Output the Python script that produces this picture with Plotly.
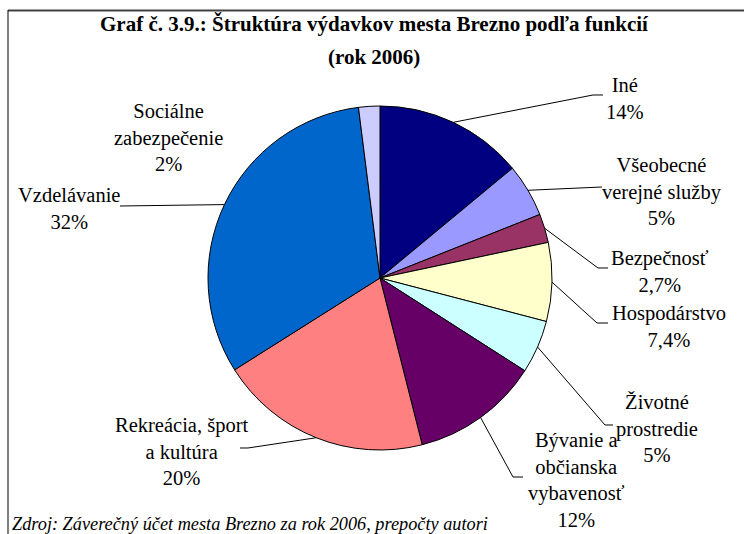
import math
import plotly.graph_objects as go

# ---- data ----
categories = ["Iné", "Všeobecné verejné služby", "Bezpečnosť", "Hospodárstvo",
              "Životné prostredie", "Bývanie a občianska vybavenosť",
              "Rekreácia, šport a kultúra", "Vzdelávanie", "Sociálne zabezpečenie"]
values = [14, 5, 2.7, 7.4, 5, 12, 20, 32, 2]
value_labels = ["14%", "5%", "2,7%", "7,4%", "5%", "12%", "20%", "32%", "2%"]
label_lines = ["Iné", "Všeobecné<br>verejné služby", "Bezpečnosť", "Hospodárstvo",
               "Životné<br>prostredie", "Bývanie a<br>občianska<br>vybavenosť",
               "Rekreácia, šport<br>a kultúra", "Vzdelávanie", "Sociálne<br>zabezpečenie"]
colors = ["#000080", "#9999FF", "#993366", "#FFFFCC", "#CCFFFF",
          "#660066", "#FF8080", "#0066CC", "#CCCCFF"]

# ---- layout (pixels) ----
W, H = 744, 534
CX, CY, R = 380, 278, 172
# label block centre (x, y) and leader-line elbow / end points (None = no line)
label_pos = [(625, 98), (662, 191), (660, 271), (669, 326), (657, 428),
             (576, 480), (181, 451), (69, 209), (168, 138)]
leader = [[(593, 95), (603, 95)], [(602, 187)], [(598, 268), (608, 268)],
          [(597, 323), (608, 323)], [(605, 425), (613, 425)],
          [(513, 477), (523, 477)], [(248, 448), (240, 448)],
          [(120, 206)], None]

def px(x):
    return x / W

def py(y):
    return 1 - y / H

FONT = "Liberation Serif, 'Times New Roman', Times, serif"

fig = go.Figure(go.Pie(
    labels=categories, values=values, sort=False, direction="clockwise",
    rotation=0, textinfo="none", hoverinfo="label+percent",
    marker=dict(colors=colors, line=dict(color="black", width=1)),
    domain=dict(x=[px(CX - R), px(CX + R)], y=[py(CY + R), py(CY - R)]),
    showlegend=False,
))

total = sum(values)
shapes = []
annotations = []
cum = 0.0
for i, v in enumerate(values):
    mid = (cum + v / 2) / total * 2 * math.pi
    cum += v
    ex = CX + R * math.sin(mid)
    ey = CY - R * math.cos(mid)
    if leader[i]:
        pts = [(ex, ey)] + leader[i]
        path = "M " + " L ".join(f"{px(x):.5f},{py(y):.5f}" for x, y in pts)
        shapes.append(dict(type="path", xref="paper", yref="paper", path=path,
                           line=dict(color="black", width=1)))
    lx, ly = label_pos[i]
    annotations.append(dict(
        xref="paper", yref="paper", x=px(lx), y=py(ly), xanchor="center", yanchor="middle",
        text=f"{label_lines[i]}<br>{value_labels[i]}", showarrow=False, align="center",
        font=dict(family=FONT, size=20.5, color="black")))

# title (two lines)
annotations.append(dict(xref="paper", yref="paper", x=px(374), y=py(24), xanchor="center",
                        yanchor="middle", showarrow=False,
                        text="<b>Graf č. 3.9.: Štruktúra výdavkov mesta Brezno podľa funkcií</b>",
                        font=dict(family=FONT, size=21, color="black")))
annotations.append(dict(xref="paper", yref="paper", x=px(374), y=py(57), xanchor="center",
                        yanchor="middle", showarrow=False, text="<b>(rok 2006)</b>",
                        font=dict(family=FONT, size=21, color="black")))
# source note
annotations.append(dict(xref="paper", yref="paper", x=px(10), y=py(524), xanchor="left",
                        yanchor="middle", showarrow=False,
                        text="<i>Zdroj: Záverečný účet mesta Brezno za rok 2006, prepočty autori</i>",
                        font=dict(family=FONT, size=18.3, color="black")))

# frame
shapes.append(dict(type="line", xref="paper", yref="paper", x0=px(8), x1=1.01,
                   y0=py(10.5), y1=py(10.5), line=dict(color="#404040", width=2)))
shapes.append(dict(type="line", xref="paper", yref="paper", x0=px(8), x1=px(8),
                   y0=py(10), y1=-0.01, line=dict(color="black", width=1)))

fig.update_layout(
    width=W, height=H, margin=dict(l=0, r=0, t=0, b=0),
    paper_bgcolor="white", plot_bgcolor="white",
    font=dict(family=FONT),
    shapes=shapes, annotations=annotations,
)

fig.write_html("out.html", config={"displayModeBar": False},
               post_script="document.body.style.margin='0';document.body.style.overflow='hidden';")
